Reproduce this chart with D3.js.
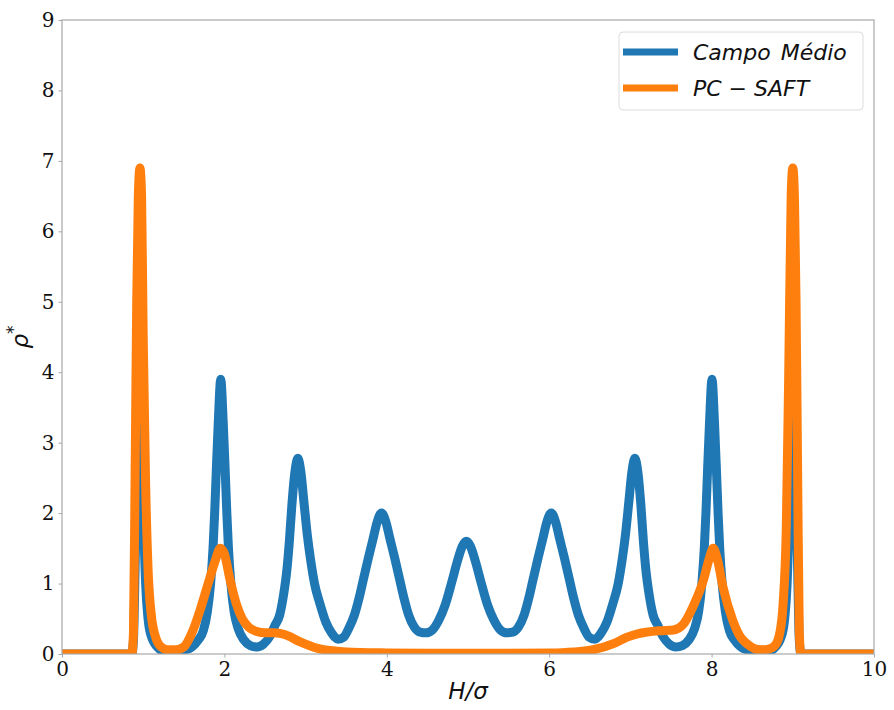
<!DOCTYPE html>
<html>
<head>
<meta charset="utf-8">
<script src="https://cdn.jsdelivr.net/npm/d3@7"></script>
<style>
  html, body { margin: 0; padding: 0; background: #fff; }
  svg { display: block; }
</style>
</head>
<body>
<svg id="chart" width="894" height="710"></svg>
<script>
// Density profiles rho* across the slit pore, H/sigma from 0 to 10
const campoMedioX = [0, 0.86, 0.88, 0.9, 0.92, 0.94, 0.96, 0.98, 1.0, 1.03, 1.06, 1.1, 1.2, 1.3, 1.4, 1.5, 1.6, 1.68, 1.74, 1.79, 1.83, 1.86, 1.88, 1.9, 1.925, 1.955, 1.985, 2.01, 2.03, 2.05, 2.08, 2.12, 2.17, 2.24, 2.32, 2.4, 2.48, 2.56, 2.62, 2.68, 2.73, 2.77, 2.8, 2.83, 2.87, 2.905, 2.94, 2.98, 3.02, 3.06, 3.11, 3.18, 3.25, 3.32, 3.4, 3.47, 3.53, 3.6, 3.66, 3.71, 3.77, 3.83, 3.88, 3.935, 3.99, 4.04, 4.1, 4.16, 4.21, 4.27, 4.34, 4.41, 4.48, 4.56, 4.64, 4.72, 4.8, 4.87, 4.93, 4.98,
  5.03, 5.09, 5.16, 5.24, 5.32, 5.4, 5.48, 5.55, 5.62, 5.69, 5.75, 5.8, 5.86, 5.92, 5.97, 6.025, 6.08, 6.13, 6.19, 6.25, 6.3, 6.36, 6.43, 6.49, 6.56, 6.64, 6.71, 6.78, 6.85, 6.9, 6.94, 6.98, 7.02, 7.055, 7.09, 7.13, 7.16, 7.19, 7.23, 7.28, 7.34, 7.4, 7.48, 7.56, 7.64, 7.72, 7.79, 7.84, 7.88, 7.91, 7.93, 7.95, 7.975, 8.005, 8.035, 8.06, 8.08, 8.1, 8.13, 8.17, 8.22, 8.28, 8.36, 8.46, 8.56, 8.66, 8.76, 8.86, 8.9, 8.93, 8.96, 8.98, 9.0, 9.02, 9.04, 9.06, 9.08, 9.1, 10];
const campoMedioY = [0, 0, 0.2, 1.2, 2.5, 3.8, 4.2, 3.6, 2.2, 1.0, 0.5, 0.25, 0.07, 0.02, 0.02, 0.05, 0.1, 0.2, 0.33, 0.6, 1.0, 1.5, 2.0, 2.6, 3.3, 3.9, 3.3, 2.6, 2.0, 1.5, 1.0, 0.6, 0.36, 0.2, 0.12, 0.1, 0.14, 0.25, 0.4, 0.55, 0.85, 1.2, 1.6, 2.1, 2.6, 2.78, 2.6, 2.15, 1.7, 1.35, 1.0, 0.7, 0.45, 0.3, 0.21, 0.24, 0.36, 0.55, 0.8, 1.05, 1.35, 1.63, 1.87, 2.0, 1.87, 1.63, 1.35, 1.05, 0.8, 0.55, 0.38, 0.31, 0.3, 0.34, 0.48, 0.7, 1.02, 1.32, 1.53, 1.6,
  1.53, 1.32, 1.02, 0.7, 0.48, 0.34, 0.3, 0.31, 0.38, 0.55, 0.8, 1.05, 1.35, 1.63, 1.87, 2.0, 1.87, 1.63, 1.35, 1.05, 0.8, 0.55, 0.36, 0.24, 0.21, 0.3, 0.45, 0.7, 1.0, 1.35, 1.7, 2.15, 2.6, 2.78, 2.6, 2.1, 1.6, 1.2, 0.85, 0.55, 0.4, 0.25, 0.14, 0.1, 0.12, 0.2, 0.36, 0.6, 1.0, 1.5, 2.0, 2.6, 3.3, 3.9, 3.3, 2.6, 2.0, 1.5, 1.0, 0.6, 0.33, 0.2, 0.1, 0.05, 0.02, 0.02, 0.07, 0.25, 0.5, 1.0, 2.2, 3.6, 4.2, 3.8, 2.5, 1.2, 0.2, 0, 0];

const pcSaftX = [0, 0.86, 0.88, 0.9, 0.92, 0.94, 0.96, 0.98, 1.0, 1.03, 1.06, 1.1, 1.15, 1.22, 1.3, 1.4, 1.5, 1.6, 1.7, 1.8, 1.88, 1.95, 2.0, 2.07, 2.15, 2.22, 2.3, 2.4, 2.5, 2.6, 2.7, 2.8, 2.9, 3.0, 3.15, 3.3, 3.5, 4.0, 4.5, 5.0, 5.5, 6.0, 6.3, 6.54, 6.8, 6.96, 7.1, 7.2, 7.35, 7.53, 7.65, 7.77, 7.9, 7.97, 8.02, 8.07, 8.14, 8.26, 8.35, 8.43, 8.52, 8.6, 8.7, 8.78, 8.84, 8.88, 8.92, 8.95, 8.98, 9.0, 9.02, 9.04, 9.06, 9.08, 9.1, 10];
const pcSaftY = [0, 0, 0.3, 2.5, 5.0, 6.5, 6.9, 6.5, 4.5, 2.4, 1.2, 0.55, 0.25, 0.1, 0.06, 0.06, 0.1, 0.3, 0.62, 1.0, 1.3, 1.5, 1.42, 1.05, 0.7, 0.5, 0.38, 0.32, 0.3, 0.3, 0.29, 0.25, 0.19, 0.14, 0.08, 0.05, 0.03, 0.015, 0.01, 0.01, 0.01, 0.015, 0.03, 0.06, 0.15, 0.24, 0.29, 0.31, 0.33, 0.34, 0.42, 0.67, 1.05, 1.35, 1.5, 1.35, 0.95, 0.48, 0.25, 0.15, 0.08, 0.06, 0.07, 0.12, 0.3, 0.7, 1.8, 4.0, 6.5, 6.9, 6.5, 5.0, 2.5, 0.3, 0, 0];

const xTicks = [0, 2, 4, 6, 8, 10];
const yTicks = [0, 1, 2, 3, 4, 5, 6, 7, 8, 9];

const seriesNames = ["Campo Médio", "PC \u2212 SAFT"];
const seriesColors = ["#1f77b4", "#ff7f0e"];

const svg = d3.select("#chart");
const margin = { left: 62, right: 20, top: 20, bottom: 56 };
const W = 894, H = 710;

const x = d3.scaleLinear().domain([0, 10]).range([margin.left, W - margin.right]);
const y = d3.scaleLinear().domain([0, 9]).range([H - margin.bottom, margin.top]);

const axisColor = "#a8a8a8";
const tickFont = "'DejaVu Serif', serif";

// clip the curves to the axes box
svg.append("clipPath").attr("id", "plotClip")
  .append("rect")
  .attr("x", margin.left).attr("y", margin.top)
  .attr("width", x(10) - x(0)).attr("height", y(0) - y(9));

const line = d3.line()
  .x(d => x(d[0]))
  .y(d => y(d[1]))
  .curve(d3.curveMonotoneX);

const series = [
  campoMedioX.map((v, i) => [v, campoMedioY[i]]),
  pcSaftX.map((v, i) => [v, pcSaftY[i]])
];

const plot = svg.append("g").attr("clip-path", "url(#plotClip)");
series.forEach((pts, i) => {
  plot.append("path")
    .datum(pts)
    .attr("fill", "none")
    .attr("stroke", seriesColors[i])
    .attr("stroke-width", 9)
    .attr("stroke-linejoin", "round")
    .attr("stroke-linecap", "butt")
    .attr("d", line);
});

// axes
const xAxis = d3.axisBottom(x).tickValues(xTicks).tickFormat(d3.format("d")).tickSize(3.5).tickPadding(4);
const yAxis = d3.axisLeft(y).tickValues(yTicks).tickFormat(d3.format("d")).tickSize(3.5).tickPadding(4);

const gx = svg.append("g").attr("transform", `translate(0,${y(0)})`).call(xAxis);
const gy = svg.append("g").attr("transform", `translate(${x(0)},0)`).call(yAxis);

[gx, gy].forEach(g => {
  g.select(".domain").remove();
  g.selectAll(".tick line").attr("stroke", axisColor).attr("stroke-width", 1);
  g.selectAll(".tick text")
    .attr("fill", "#111")
    .style("font-family", tickFont)
    .style("font-size", "20px");
});

// frame around the axes
svg.append("rect")
  .attr("x", x(0)).attr("y", y(9))
  .attr("width", x(10) - x(0)).attr("height", y(0) - y(9))
  .attr("fill", "none")
  .attr("stroke", axisColor)
  .attr("stroke-width", 1.2);

// axis titles
svg.append("text")
  .attr("x", (x(0) + x(10)) / 2)
  .attr("y", 699)
  .attr("text-anchor", "middle")
  .style("font-family", "'DejaVu Sans', sans-serif")
  .style("font-style", "italic")
  .style("font-size", "23px")
  .attr("fill", "#111")
  .text("H/\u03c3");

const yl = svg.append("text")
  .attr("transform", `translate(28, ${(y(0) + y(9)) / 2}) rotate(-90)`)
  .attr("text-anchor", "middle")
  .style("font-family", "'DejaVu Sans', sans-serif")
  .style("font-style", "italic")
  .style("font-size", "23px")
  .attr("fill", "#111");
yl.append("tspan").text("\u03c1");
yl.append("tspan").attr("dy", -9).style("font-size", "17px").style("font-style", "normal").text("*");

// legend
const leg = svg.append("g");
leg.append("rect")
  .attr("x", 619).attr("y", 32)
  .attr("width", 244).attr("height", 78)
  .attr("rx", 4)
  .attr("fill", "#fff")
  .attr("fill-opacity", 0.8)
  .attr("stroke", "#dcdcdc")
  .attr("stroke-width", 1);

seriesNames.forEach((name, i) => {
  const cy = 52 + i * 36;
  leg.append("line")
    .attr("x1", 623).attr("x2", 678)
    .attr("y1", cy).attr("y2", cy)
    .attr("stroke", seriesColors[i])
    .attr("stroke-width", 7);
  leg.append("text")
    .attr("x", 693).attr("y", cy + 8)
    .style("font-family", "'DejaVu Sans', sans-serif")
    .style("font-style", "italic")
    .style("font-size", "22px")
    .style("word-spacing", i === 0 ? "3px" : "0px")
    .attr("fill", "#111")
    .text(name);
});
</script>
</body>
</html>
